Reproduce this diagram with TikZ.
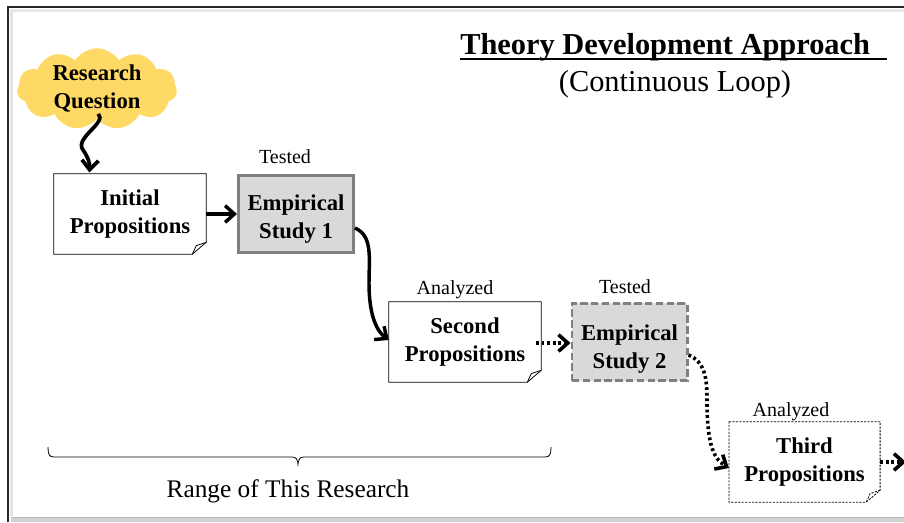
\documentclass[tikz,border=0pt]{standalone}
\usepackage{fontspec}
\setmainfont{Liberation Serif}
\usetikzlibrary{arrows.meta,shapes.symbols,calc}

\definecolor{cloudyellow}{HTML}{FFD966}
\definecolor{studyfill}{HTML}{D9D9D9}
\definecolor{studyedge}{HTML}{808080}

\tikzset{
  boxtext/.style={font=\fontsize{17}{21}\selectfont\bfseries, align=center, inner sep=0pt},
  notebox/.style={boxtext, minimum width=114pt, minimum height=60pt, inner sep=0pt},
  studybox/.style={fill=studyfill, draw=studyedge, line width=2.2pt,
    minimum width=86.3pt, minimum height=57.8pt, inner sep=0pt},
  steplabel/.style={font=\fontsize{15}{18}\selectfont, anchor=base, inner sep=0pt},
  tip/.style={-{Straight Barb[length=7pt,width=12.5pt]}},
  solidarrow/.style={tip, line width=2.6pt},
  dotarrow/.style={tip, line width=2.7pt, dash pattern=on 2.1pt off 2.1pt},
}

% outline of a note box with a curled bottom-right corner
\newcommand\notefold[2]{%
  \draw[#2] (#1.north west) -- (#1.north east) -- ([yshift=9pt]#1.south east)
    -- ([xshift=-10.5pt]#1.south east) -- (#1.south west) -- cycle;
  \draw[#2] ([yshift=9pt]#1.south east) -- ([xshift=-7.5pt,yshift=6.5pt]#1.south east)
    -- ([xshift=-10.5pt]#1.south east);
}

\begin{document}
\begin{tikzpicture}[x=0.75pt,y=-0.75pt]
\useasboundingbox (0,0) rectangle (904,522);

% page frame with its shading
\fill[gray!22] (10,9) rectangle (13,516);
\fill[gray!18] (10,9) rectangle (904,12);
\fill[gray!35] (11,517) rectangle (904,522);
\fill[gray!55] (11,517) rectangle (904,518);
\draw[black!85, line width=1.1pt] (8,522) -- (8,7) -- (904,7);

% heading
\node (title) [anchor=base west, inner sep=0pt, font=\fontsize{22.8}{27}\selectfont\bfseries] at (460,54) {Theory Development Approach};
\draw[line width=1.5pt] (460,58.5) -- (887,58.5);
\node (subtitle) [anchor=base, inner sep=0pt, font=\fontsize{22.8}{27}\selectfont] at (675,91) {(Continuous Loop)};

% starting point
\node (rq) [cloud, cloud puffs=11, cloud puff arc=115, cloud ignores aspect, fill=cloudyellow, draw=none,
  minimum width=120pt, minimum height=61pt, inner sep=0pt] at (97,89) {};
\node (rqt) [boxtext] at (97,88) {Research\\Question};

% steps
\node (ip) [notebox] at (130,214) {Initial\\Propositions};
\notefold{ip}{line width=0.6pt}
\node (es1) [studybox] at (296,214) {};
\node (es1t) [boxtext] at ([yshift=-3.5pt]es1.center) {Empirical\\Study 1};
\node (se) [notebox] at (465,342) {Second\\Propositions};
\notefold{se}{line width=0.6pt}
\node (es2) [studybox, dash pattern=on 5.5pt off 2.6pt] at (629.5,342) {};
\node (es2t) [boxtext] at ([yshift=-5pt]es2.center) {Empirical\\Study 2};
\node (th) [notebox, minimum width=113pt] at (804.5,462) {Third\\Propositions};
\notefold{th}{line width=0.6pt, dash pattern=on 1.6pt off 1pt}
\coordinate (next) at (906,462);

% step labels
\node (t1) [steplabel] at (285,163) {Tested};
\node (a1) [steplabel] at (455,294) {Analyzed};
\node (t2) [steplabel] at (625,293) {Tested};
\node (a2) [steplabel] at (791,416) {Analyzed};

% connectors
\draw[solidarrow, line width=2.8pt] ([xshift=1pt,yshift=4pt]rq.south) .. controls +(9,9) and (74,138) .. (83,150)
  .. controls (88,157) and (90,163) .. ([xshift=-30.5pt,yshift=1pt]ip.north);
\draw[solidarrow] (ip.east) -- (es1.west);
\draw[solidarrow] ([yshift=-10.5pt]es1.east) .. controls (373,236) and (369,258) .. (369,283)
  .. controls (369,318) and (378,332) .. ([yshift=1.5pt]se.west);
\draw[dotarrow] ([xshift=-4pt,yshift=-0.75pt]se.east) -- ([yshift=-0.75pt]es2.west);
\draw[dotarrow] ([yshift=-9.75pt]es2.east) .. controls (705,362) and (707,378) .. (707,400)
  .. controls (707,440) and (712,458) .. ([yshift=-4.5pt]th.west);
\draw[dotarrow] (th.east) -- (next);

% scope of the study
\coordinate (bl) at (48,447);
\coordinate (br) at (551,447);
\coordinate (bm) at (298,466);
\draw[line width=0.6pt] (bl) .. controls (48,454) and (49,457) .. (54,457) -- (292,457)
  .. controls (296,457) and (298,459) .. (bm)
  .. controls (298,459) and (300,457) .. (304,457) -- (545,457)
  .. controls (550,457) and (551,454) .. (br);
\node (range) [anchor=base, inner sep=0pt, font=\fontsize{19}{23}\selectfont] at (288,497) {Range of This Research};
\end{tikzpicture}
\end{document}
